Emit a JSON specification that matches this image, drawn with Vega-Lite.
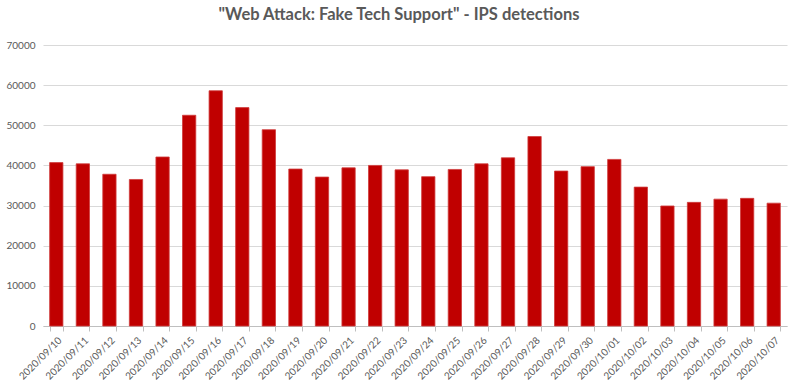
{
  "$schema": "https://vega.github.io/schema/vega-lite/v6.json",
  "autosize": "none",
  "width": 744,
  "height": 281,
  "padding": {"left": 43, "top": 45, "right": 13, "bottom": 58},
  "background": "white",
  "title": {
    "text": "\"Web Attack: Fake Tech Support\" - IPS detections",
    "font": "Lato",
    "fontSize": 16.5,
    "fontWeight": "bold",
    "color": "#595959",
    "anchor": "middle",
    "dx": -16,
    "offset": 17
  },
  "config": {"view": {"stroke": null}},
  "data": {
    "values": [
      {"date": "2020/09/10", "count": 40700},
      {"date": "2020/09/11", "count": 40400},
      {"date": "2020/09/12", "count": 37800},
      {"date": "2020/09/13", "count": 36500},
      {"date": "2020/09/14", "count": 42100},
      {"date": "2020/09/15", "count": 52500},
      {"date": "2020/09/16", "count": 58600},
      {"date": "2020/09/17", "count": 54400},
      {"date": "2020/09/18", "count": 48900},
      {"date": "2020/09/19", "count": 39100},
      {"date": "2020/09/20", "count": 37100},
      {"date": "2020/09/21", "count": 39400},
      {"date": "2020/09/22", "count": 40000},
      {"date": "2020/09/23", "count": 38900},
      {"date": "2020/09/24", "count": 37200},
      {"date": "2020/09/25", "count": 39000},
      {"date": "2020/09/26", "count": 40400},
      {"date": "2020/09/27", "count": 41900},
      {"date": "2020/09/28", "count": 47200},
      {"date": "2020/09/29", "count": 38600},
      {"date": "2020/09/30", "count": 39700},
      {"date": "2020/10/01", "count": 41500},
      {"date": "2020/10/02", "count": 34600},
      {"date": "2020/10/03", "count": 29900},
      {"date": "2020/10/04", "count": 30800},
      {"date": "2020/10/05", "count": 31600},
      {"date": "2020/10/06", "count": 31800},
      {"date": "2020/10/07", "count": 30600}
    ]
  },
  "mark": {"type": "bar", "color": "#c00000", "stroke": "#cf3b3b", "strokeWidth": 0.8},
  "encoding": {
    "x": {
      "field": "date",
      "type": "ordinal",
      "sort": null,
      "title": null,
      "scale": {"paddingInner": 0.5, "paddingOuter": 0.25},
      "axis": {
        "labelAngle": -45,
        "labelAlign": "right",
        "labelBaseline": "top",
        "labelFont": "Lato",
        "labelFontSize": 10,
        "labelColor": "#595959",
        "labelPadding": 4,
        "domainColor": "#bfbfbf",
        "tickColor": "#bfbfbf",
        "tickSize": 5,
        "tickBand": "extent",
        "grid": false
      }
    },
    "y": {
      "field": "count",
      "type": "quantitative",
      "title": null,
      "scale": {"domain": [0, 70000]},
      "axis": {
        "values": [0, 10000, 20000, 30000, 40000, 50000, 60000, 70000],
        "format": "d",
        "labelFont": "Lato",
        "labelFontSize": 10,
        "labelColor": "#595959",
        "labelPadding": 8,
        "domain": false,
        "ticks": false,
        "grid": true,
        "gridColor": "#d9d9d9",
        "gridWidth": 1
      }
    }
  }
}
